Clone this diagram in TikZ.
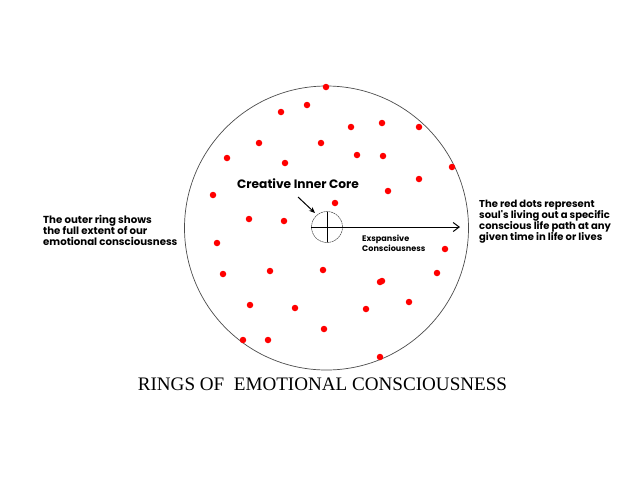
\documentclass[tikz,border=0pt]{standalone}
\usepackage{fontspec}
\setmainfont{Liberation Serif}
\newfontfamily\labelfont{Poppins}
\usetikzlibrary{arrows.meta}
\tikzset{
  reddot/.style={circle,fill=red,inner sep=0pt,minimum size=6.5pt},
  note/.style={font=\labelfont\bfseries\fontsize{10.2}{11.4}\selectfont,align=left,inner sep=0pt},
}
\begin{document}
\begin{tikzpicture}[x=1pt,y=-1pt]
\useasboundingbox (0,0) rectangle (640,480);
\fill[white] (0,0) rectangle (640,480);
% outer ring
\node[circle,draw=black!70,line width=0.7pt,minimum size=284pt,inner sep=0pt] (ring) at (326.5,228) {};
% inner core
\node[circle,draw=black!75,line width=0.5pt,dash pattern=on 2pt off 0.6pt,minimum size=31pt,inner sep=0pt] (core) at (327,227) {};
\coordinate (cl) at (311,227);
\coordinate (ct) at (327,212);
\coordinate (cb) at (327,242);
\draw[line width=0.6pt] (cl) -- (core.east);
\draw[line width=0.6pt] (ct) -- (cb);
% arrow
\coordinate (tip) at (460,227);
\draw[line width=1pt,-{Straight Barb[length=6pt,width=9pt]}] (core.east) -- (tip);
% labels
\node[note,font=\labelfont\bfseries\fontsize{12.2}{14}\selectfont,anchor=west] (cic) at (237,184) {Creative Inner Core};
\coordinate (ptr) at (315,213);
\draw[line width=1pt,-{Stealth[length=6pt,width=5pt]}] (298,197) -- (ptr);
\node[note,font=\labelfont\bfseries\fontsize{8.1}{10.5}\selectfont,anchor=north west] (exp) at (362,234.5) {Exspansive\\Consciousness};
\node[note,anchor=west] (left) at (43,230.5) {The outer ring shows\\the full extent of our\\emotional consciousness};
\node[note,font=\labelfont\bfseries\fontsize{10}{11.2}\selectfont,anchor=west] (right) at (479,221.5) {The red dots represent\\soul's living out a specific\\conscious life path at any\\given time in life or lives};
\node[font=\fontsize{19.1}{22}\selectfont,anchor=center,inner sep=0pt] (title) at (322.5,384) {RINGS OF\ \ EMOTIONAL CONSCIOUSNESS};
% red dots
\foreach \p [count=\i] in {(326,87),(307,105),(281,112),(351,127),(382,123),(419,127),(259,143),(321,143),(227,158),(357,155),(383,156),(285,163),(452,167),(419,179),(213,195),(388,191),(335,203),(249,219),(284,221),(217,243),(445,249),(223,274),(270,271),(323,270),(380,282),(382,281),(437,273),(250,305),(295,308),(366,309),(409,302),(324,329),(243,340),(268,340),(380,357)}
  \node[reddot] (d\i) at \p {};
\end{tikzpicture}
\end{document}
